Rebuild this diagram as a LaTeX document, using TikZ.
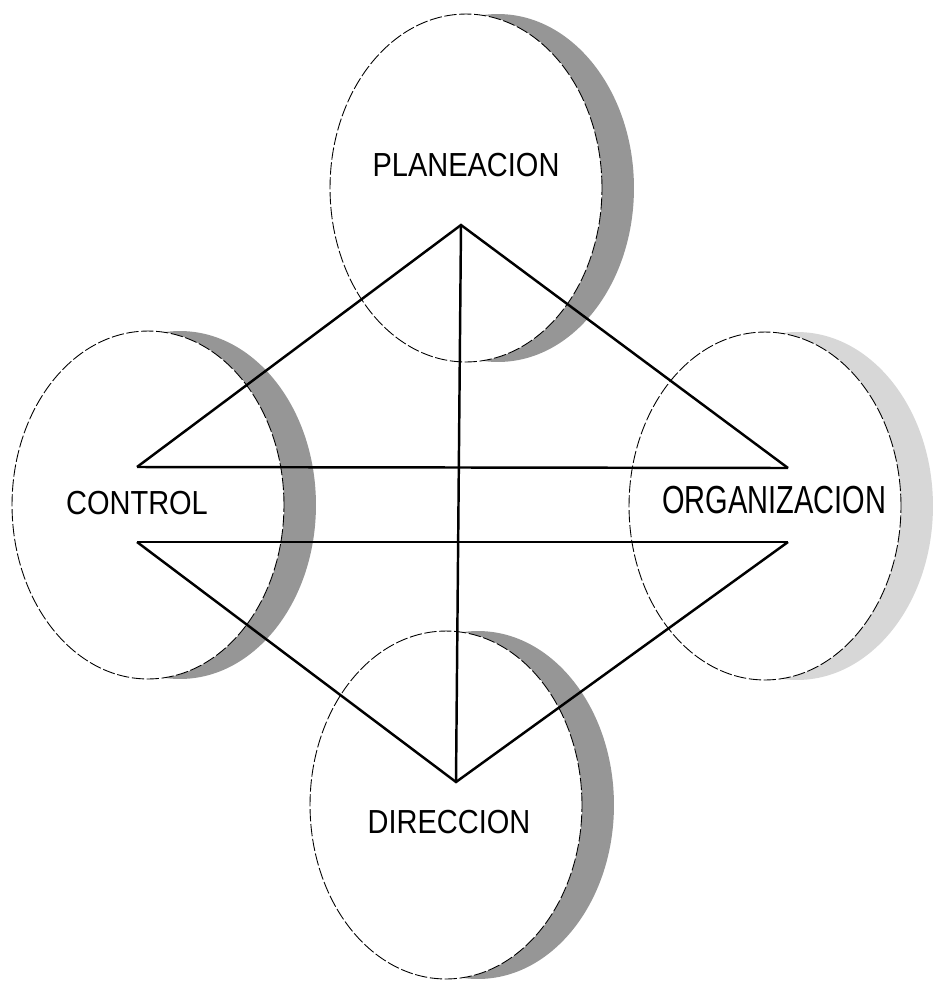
\documentclass[tikz,border=0pt]{standalone}
\usepackage{fontspec}
\setmainfont{Liberation Sans}
\definecolor{shgray}{RGB}{150,150,150}
\definecolor{shlight}{RGB}{215,215,215}
\usetikzlibrary{shapes.geometric,shadows}
\tikzset{
  bubble/.style={draw, ellipse, fill=white, inner sep=0pt, minimum width=5.44cm, minimum height=6.96cm,
    line width=0.5pt, dash pattern=on 7pt off 1.5pt},
  shade/.style={drop shadow={shadow xshift=0.64cm, shadow yshift=0cm, fill=#1, opacity=1}},
  edge/.style={line width=1.4pt, line join=miter},
  lbl/.style={font=\fontsize{16.5}{20}\selectfont, inner sep=1pt}
}
\begin{document}
\begin{tikzpicture}[x=0.02cm, y=-0.02cm]
  \useasboundingbox (0,0) rectangle (935,984);

  % Four functions
  \node[bubble, shade=shgray] (plan) at (466,188) {};
  \node[bubble, shade=shgray] (ctrl) at (148,505) {};
  \node[bubble, shade=shlight] (org) at (765,506) {};
  \node[bubble, shade=shgray] (dir) at (446,805) {};

  % Diamond corners
  \coordinate (top) at (461,225);
  \coordinate (ul) at (137,467);
  \coordinate (ll) at (137,542);
  \coordinate (bot) at (456,782);
  \coordinate (lr) at (788,542);
  \coordinate (ur) at (788,468);

  % Diamond
  \draw[edge] (ul) -- (top) -- (ur);
  \draw[edge] (ll) -- (bot) -- (lr);
  \draw[edge] (ul) -- (ur);
  \draw[edge] (ll) -- (lr);
  \draw[edge] (top) -- (bot);

  % Labels
  \node[lbl] (tplan) at (466,165) {\scalebox{1}[1.15]{PLANEACION}};
  \node[lbl] (tctrl) at (137,503) {\scalebox{1}[1.15]{CONTROL}};
  \node[lbl] (torg) at (774,500) {\scalebox{1}[1.35]{ORGANIZACION}};
  \node[lbl] (tdir) at (449,822) {\scalebox{1}[1.15]{DIRECCION}};
\end{tikzpicture}
\end{document}
